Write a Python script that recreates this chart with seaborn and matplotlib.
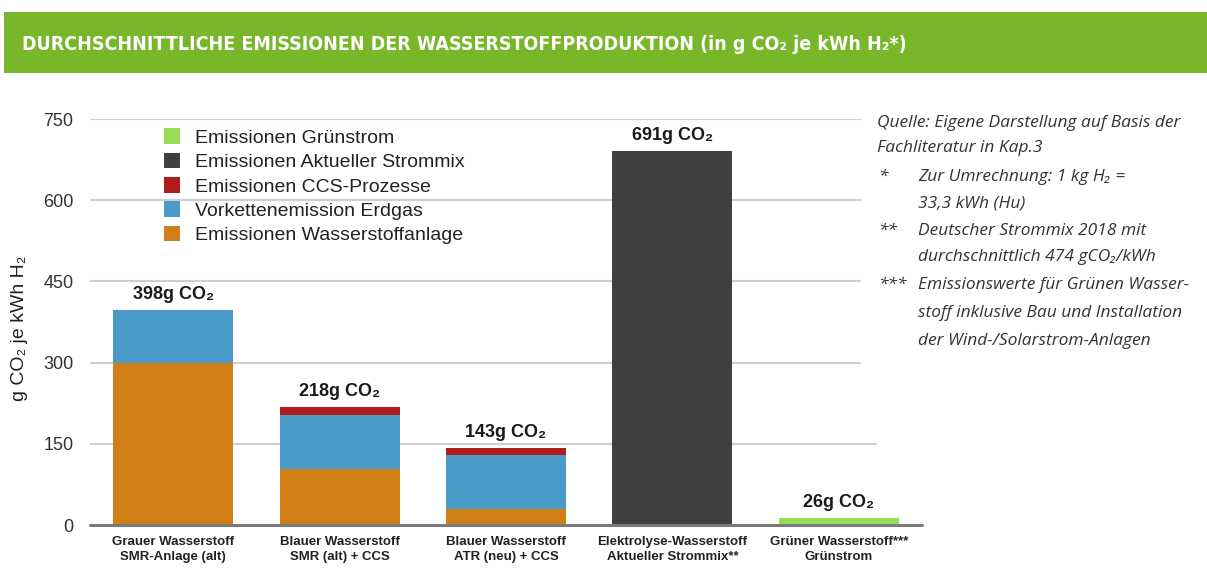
import numpy as np
import pandas as pd
import matplotlib
matplotlib.use("Agg")
import matplotlib.pyplot as plt
import seaborn as sns
from matplotlib.patches import Patch, Rectangle

# -----------------------------
# Data (g CO2 je kWh H2)
# -----------------------------
categories = [
    "Grauer Wasserstoff\nSMR-Anlage (alt)",
    "Blauer Wasserstoff\nSMR (alt) + CCS",
    "Blauer Wasserstoff\nATR (neu) + CCS",
    "Elektrolyse-Wasserstoff\nAktueller Strommix**",
    "Grüner Wasserstoff***\nGrünstrom",
]
anlage = [300, 103, 29, 0, 0]
vorkette = [98, 100, 100, 0, 0]
ccs = [0, 15, 14, 0, 0]
strommix = [0, 0, 0, 691, 0]
gruenstrom = [0, 0, 0, 0, 13]
total_labels = ["398g CO₂", "218g CO₂", "143g CO₂", "691g CO₂", "26g CO₂"]

series_names = [
    "Emissionen Grünstrom",
    "Emissionen Aktueller Strommix",
    "Emissionen CCS-Prozesse",
    "Vorkettenemission Erdgas",
    "Emissionen Wasserstoffanlage",
]
colors = ["#9ade55", "#3f3f3f", "#b01c19", "#4a9bc9", "#d17f17"]

notes = [
    ("", "Quelle: Eigene Darstellung auf Basis der"),
    ("", "Fachliteratur in Kap.3"),
    ("*", "Zur Umrechnung: 1 kg H₂ ="),
    ("", "33,3 kWh (Hu)"),
    ("**", "Deutscher Strommix 2018 mit"),
    ("", "durchschnittlich 474 gCO₂/kWh"),
    ("***", "Emissionswerte für Grünen Wasser-"),
    ("", "stoff inklusive Bau und Installation"),
    ("", "der Wind-/Solarstrom-Anlagen"),
]

# stacked bars drawn as overlapping cumulative totals (tallest first)
layers = np.array([anlage, vorkette, ccs, strommix, gruenstrom], dtype=float)
cum = np.cumsum(layers, axis=0)[::-1]

sns.set_style("white")
plt.rcParams["font.family"] = ["Liberation Sans", "DejaVu Sans"]

W, H = 1207, 580
fig = plt.figure(figsize=(W / 100, H / 100), dpi=100)
ax = fig.add_axes([90 / W, 1 - 525 / H, (922 - 90) / W, (525 - 119) / H])

for heights, col in zip(cum, colors):
    df = pd.DataFrame({"cat": categories, "val": heights})
    sns.barplot(data=df, x="cat", y="val", color=col, width=0.72,
                saturation=1, ax=ax, zorder=3, edgecolor="none")

ax.set_xlim(-0.5, 4.5)
ax.set_ylim(0, 750)
ax.set_yticks([0, 150, 300, 450, 600, 750])
for t in [150, 300, 450, 600, 750]:
    ax.axhline(t, xmax=0.945 if t == 150 else 0.925, color="#cfcfcf", lw=1.5, zorder=1)
ax.axhline(0, color="#7a7a7a", lw=2.2, zorder=4, clip_on=False)
for s in ax.spines.values():
    s.set_visible(False)
ax.tick_params(axis="y", length=0, pad=12, labelsize=13, labelcolor="#333333")
ax.tick_params(axis="x", length=0, pad=8)
ax.set_xticks(range(len(categories)))
ax.set_xticklabels(categories, fontsize=9.5, fontweight="bold", color="#222222",
                   linespacing=1.3)
ax.set_xlabel("")
ax.set_ylabel("g CO₂ je kWh H₂", fontsize=14, color="#222222")
ax.yaxis.set_label_coords(-0.074, 0.485)

totals = cum[0]
for i, (tot, lab) in enumerate(zip(totals, total_labels)):
    ax.annotate(lab, (i, tot), xytext=(0, 5), textcoords="offset points",
                ha="center", va="bottom", fontsize=13, fontweight="bold", color="#1a1a1a")

handles = [Patch(facecolor=c, edgecolor="none") for c in colors]
leg = ax.legend(handles, series_names, loc="upper left", bbox_to_anchor=(0.079, 0.996),
                frameon=False, fontsize=14, handlelength=0.85, handleheight=0.85,
                handletextpad=0.75, labelspacing=0.3, borderaxespad=0)
for t in leg.get_texts():
    t.set_color("#222222")

# title banner
fig.patches.append(Rectangle((4 / W, 1 - 73 / H), 1, 61 / H, transform=fig.transFigure,
                             facecolor="#78b72a", edgecolor="none", zorder=0))
fig.text(22 / W, 1 - 45 / H, "DURCHSCHNITTLICHE EMISSIONEN DER WASSERSTOFFPRODUKTION (in g CO₂ je kWh H₂*)",
         color="white", fontsize=14, fontweight="bold", va="center", ha="left",
         family="DejaVu Sans", fontstretch="condensed")

# source notes
y0 = 123
dys = [0, 25, 54, 80, 108, 134, 162, 190, 218]
for (mark, txt), dy in zip(notes, dys):
    y = 1 - (y0 + dy) / H
    x = 877 if mark == "" and dy < 50 else 918
    if mark:
        fig.text(878 / W, y, mark, fontsize=12.5, style="italic", color="#333333",
                 va="center", ha="left", family=["Open Sans", "DejaVu Sans"])
    fig.text(x / W, y, txt, fontsize=12.5, style="italic", color="#333333",
             va="center", ha="left", family=["Open Sans", "DejaVu Sans"])

fig.savefig("out.png", dpi=100)
